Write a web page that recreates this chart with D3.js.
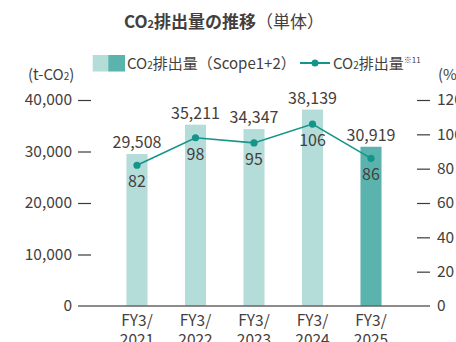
<!DOCTYPE html>
<html>
<head>
<meta charset="utf-8">
<script src="https://cdn.jsdelivr.net/npm/d3@7"></script>
<style>
  html, body { margin: 0; padding: 0; background: #fff; }
  svg { display: block; font-family: "Noto Sans CJK JP", "Noto Sans", sans-serif; }
</style>
</head>
<body>
<svg id="chart" width="456" height="342"></svg>
<script>
// Fiscal years (two-line labels)
const years = ["FY3/2021", "FY3/2022", "FY3/2023", "FY3/2024", "FY3/2025"];
const yearLines = [["FY3/", "2021"], ["FY3/", "2022"], ["FY3/", "2023"], ["FY3/", "2024"], ["FY3/", "2025"]];
// CO2 emissions, Scope1+2 (t-CO2)
const emissions = [29508, 35211, 34347, 38139, 30919];
// CO2 emissions index (%)
const ratio = [82, 98, 95, 106, 86];
// Axis ticks
const leftTicks = [0, 10000, 20000, 30000, 40000];
const rightTicks = [0, 20, 40, 60, 80, 100, 120];

const textColor = "#443e3c";
const axisColor = "#6a6563";
const lightBar = "#b4dcd9";
const darkBar = "#5bb3ae";
const lineColor = "#14958a";

const svg = d3.select("#chart");

const x = d3.scaleBand().domain(years).range([107.75, 400.25]).paddingInner(0.64).paddingOuter(0.32);
const yL = d3.scaleLinear().domain([0, 40000]).range([306, 100]);
const yR = d3.scaleLinear().domain([0, 120]).range([306, 100]);

// Title
const title = svg.append("text").attr("x", 224).attr("y", 28).attr("text-anchor", "middle")
  .attr("fill", textColor).style("font-size", "17px");
title.append("tspan").attr("font-weight", "bold").text("CO");
title.append("tspan").attr("font-weight", "bold").style("font-size", "11px").text("2");
title.append("tspan").attr("font-weight", "bold").text("排出量の推移");
title.append("tspan").attr("font-weight", "normal").text("（単体）");

// Legend
svg.append("rect").attr("x", 92.7).attr("y", 55).attr("width", 15.5).attr("height", 16.5).attr("fill", lightBar);
svg.append("rect").attr("x", 108.2).attr("y", 55).attr("width", 16.8).attr("height", 16.5).attr("fill", darkBar);
const lg1 = svg.append("text").attr("x", 127).attr("y", 69).attr("fill", textColor).style("font-size", "15px");
lg1.append("tspan").text("CO");
lg1.append("tspan").style("font-size", "10px").text("2");
lg1.append("tspan").text("排出量（Scope1+2）");

svg.append("line").attr("x1", 300).attr("x2", 330).attr("y1", 63).attr("y2", 63)
  .attr("stroke", lineColor).attr("stroke-width", 2);
svg.append("circle").attr("cx", 315).attr("cy", 63).attr("r", 3.5).attr("fill", lineColor);
const lg2 = svg.append("text").attr("x", 333).attr("y", 69).attr("fill", textColor).style("font-size", "15px");
lg2.append("tspan").text("CO");
lg2.append("tspan").style("font-size", "10px").text("2");
lg2.append("tspan").text("排出量");
lg2.append("tspan").attr("dy", -6).style("font-size", "8px").text("※11");

// Axis unit labels
const uL = svg.append("text").attr("x", 28).attr("y", 80).attr("fill", textColor).style("font-size", "15px");
uL.append("tspan").text("(t-CO");
uL.append("tspan").style("font-size", "10px").text("2");
uL.append("tspan").text(")");
svg.append("text").attr("x", 438).attr("y", 80).attr("fill", textColor).style("font-size", "15px").text("(%)");

// Left axis
const axL = svg.append("g").attr("transform", "translate(91,0)")
  .call(d3.axisLeft(yL).tickValues(leftTicks).tickSize(13).tickPadding(6).tickFormat(d3.format(",")));
axL.select(".domain").remove();
axL.selectAll(".tick line").attr("stroke", "#3a3a3a").attr("stroke-width", 1.2);
axL.selectAll(".tick").filter(d => d === 0).select("line").remove();
axL.selectAll(".tick text").attr("fill", textColor).style("font-size", "15.5px")
  .style("font-family", "'Noto Sans CJK JP', sans-serif");

// Right axis
const axR = svg.append("g").attr("transform", "translate(417,0)")
  .call(d3.axisRight(yR).tickValues(rightTicks).tickSize(13).tickPadding(7));
axR.select(".domain").remove();
axR.selectAll(".tick line").attr("stroke", "#3a3a3a").attr("stroke-width", 1.2);
axR.selectAll(".tick").filter(d => d === 0).select("line").remove();
axR.selectAll(".tick text").attr("fill", textColor).style("font-size", "15.5px")
  .style("font-family", "'Noto Sans CJK JP', sans-serif");

// Bars
svg.append("g").selectAll("rect").data(years).join("rect")
  .attr("x", d => x(d))
  .attr("width", x.bandwidth())
  .attr("y", (d, i) => yL(emissions[i]))
  .attr("height", (d, i) => yL(0) - yL(emissions[i]))
  .attr("fill", (d, i) => i === years.length - 1 ? darkBar : lightBar);

// Baseline
svg.append("line").attr("x1", 78).attr("x2", 430).attr("y1", yL(0)).attr("y2", yL(0))
  .attr("stroke", axisColor).attr("stroke-width", 1.5);

// Bar value labels
svg.append("g").selectAll("text").data(years).join("text")
  .attr("x", d => x(d) + x.bandwidth() / 2)
  .attr("y", (d, i) => yL(emissions[i]) - 6)
  .attr("text-anchor", "middle").attr("fill", textColor).style("font-size", "16px")
  .text((d, i) => d3.format(",")(emissions[i]));

// Index line
const cx = d => x(d) + x.bandwidth() / 2;
svg.append("path")
  .attr("d", d3.line().x(d => cx(d)).y((d, i) => yR(ratio[i]))(years))
  .attr("fill", "none").attr("stroke", lineColor).attr("stroke-width", 1.6);
svg.append("g").selectAll("circle").data(years).join("circle")
  .attr("cx", cx).attr("cy", (d, i) => yR(ratio[i])).attr("r", 3.6).attr("fill", lineColor);
svg.append("g").selectAll("text").data(years).join("text")
  .attr("x", cx).attr("y", (d, i) => yR(ratio[i]) + 22)
  .attr("text-anchor", "middle").attr("fill", textColor).style("font-size", "16px")
  .text((d, i) => ratio[i]);

// Category labels
const xl = svg.append("g").selectAll("text").data(years).join("text")
  .attr("x", cx).attr("y", 326)
  .attr("text-anchor", "middle").attr("fill", textColor).style("font-size", "15.5px");
xl.selectAll("tspan").data((d, i) => yearLines[i]).join("tspan")
  .attr("x", function () { return this.parentNode.getAttribute("x"); })
  .attr("dy", (d, j) => j === 0 ? 0 : 19)
  .text(d => d);
</script>
</body>
</html>
